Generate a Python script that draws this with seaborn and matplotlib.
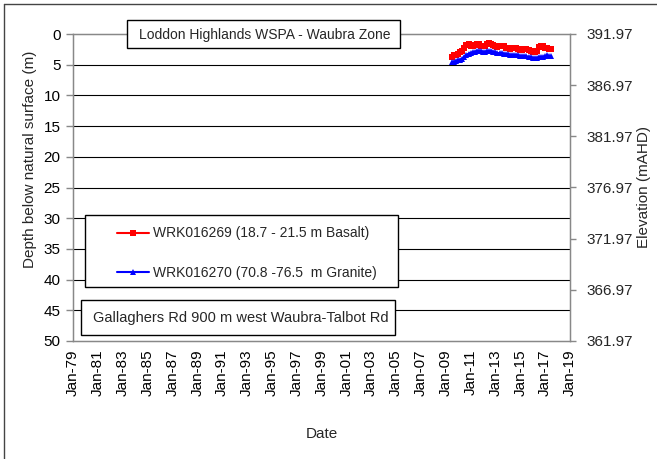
import matplotlib
matplotlib.use("Agg")
import matplotlib.pyplot as plt
import matplotlib.dates as mdates
from matplotlib.patches import Rectangle
from matplotlib.lines import Line2D
import seaborn as sns
import pandas as pd
import numpy as np

sns.set_style("white")
plt.rcParams['font.family'] = ['Liberation Sans', 'DejaVu Sans']

# ---- data ----
title_text = "Loddon Highlands WSPA - Waubra Zone"
site_text = "Gallaghers Rd 900 m west Waubra-Talbot Rd"
label_red = "WRK016269 (18.7 - 21.5 m Basalt)"
label_blue = "WRK016270 (70.8 -76.5  m Granite)"
start_date = "2009-07-01"

depth_red = [3.7, 3.5, 3.4, 3.2, 3.0, 2.7, 2.2, 1.8, 1.7, 1.9, 2.0, 1.8, 1.6, 1.7,
             1.9, 2.0, 1.9, 1.7, 1.5, 1.6, 1.8, 2.0, 2.1, 2.0, 1.9, 2.0, 2.2, 2.3,
             2.4, 2.3, 2.2, 2.3, 2.5, 2.6, 2.6, 2.5, 2.4, 2.6, 2.8, 2.9, 2.9, 2.7,
             2.1, 1.9, 2.0, 2.2, 2.3, 2.4, 2.4]
depth_blue = [4.6, 4.5, 4.4, 4.3, 4.2, 4.0, 3.7, 3.4, 3.2, 3.1, 3.0, 2.9, 2.8, 2.8,
              2.8, 2.9, 2.9, 2.8, 2.8, 2.8, 2.9, 3.0, 3.1, 3.1, 3.1, 3.2, 3.3, 3.3,
              3.4, 3.4, 3.4, 3.5, 3.5, 3.6, 3.6, 3.6, 3.6, 3.7, 3.8, 3.9, 3.9, 3.9,
              3.8, 3.7, 3.7, 3.6, 3.5, 3.6, 3.6]
dates = pd.date_range(start_date, periods=len(depth_red), freq="2MS")

tick_years = [1979, 1981, 1983, 1985, 1987, 1989, 1991, 1993, 1995, 1997, 1999,
              2001, 2003, 2005, 2007, 2009, 2011, 2013, 2015, 2017, 2019]
depth_ticks = [0, 5, 10, 15, 20, 25, 30, 35, 40, 45, 50]
elev_ticks = [361.97, 366.97, 371.97, 376.97, 381.97, 386.97, 391.97]

df_red = pd.DataFrame({"Date": dates, "Depth": depth_red})
df_blue = pd.DataFrame({"Date": dates, "Depth": depth_blue})

# ---- figure ----
W, H = 657, 459
fig = plt.figure(figsize=(W / 100, H / 100), dpi=100)
fig.patch.set_facecolor("white")
L, R, T, B = 73, 570, 34, 341
ax = fig.add_axes([L / W, 1 - B / H, (R - L) / W, (B - T) / H])

sns.lineplot(data=df_red, x="Date", y="Depth", ax=ax, color="#ff0000", marker="s",
             markersize=4.5, markeredgewidth=0, linewidth=1.5, label=label_red,
             legend=False)
sns.lineplot(data=df_blue, x="Date", y="Depth", ax=ax, color="#0000ff", marker="^",
             markersize=5, markeredgewidth=0, linewidth=1.5, label=label_blue,
             legend=False)

ax.set_ylim(50, 0)
ax.set_yticks(depth_ticks)
ax.set_xlim(pd.Timestamp("1979-01-01"), pd.Timestamp("2019-01-01"))
ax.set_xticks([pd.Timestamp(f"{y}-01-01") for y in tick_years])
ax.xaxis.set_major_formatter(mdates.DateFormatter("%b-%y"))
for lab in ax.get_xticklabels():
    lab.set_rotation(90)

ax.grid(False)
for y in depth_ticks[1:-1]:
    ax.axhline(y, color="black", linewidth=0.8, zorder=0.5)

gray = "#888888"
for s in ax.spines.values():
    s.set_color(gray)
    s.set_linewidth(1.0)

ax.tick_params(axis="both", which="major", direction="out", length=5, width=1,
               color=gray, labelsize=11, labelcolor="black")
ax.tick_params(axis="y", pad=4)
ax.tick_params(axis="x", length=4, pad=2)

ax.set_ylabel("Depth below natural surface (m)", fontsize=11)
ax.yaxis.set_label_coords(-0.073, 0.593)
ax.set_xlabel("Date", fontsize=11)
ax.xaxis.set_label_coords(0.5, -0.28)

ax2 = ax.twinx()
ax2.set_ylim(361.97, 391.97)
ax2.set_yticks(elev_ticks)
ax2.set_yticklabels([f"{v:.2f}" for v in elev_ticks])
ax2.tick_params(axis="y", direction="out", length=4, width=1, color=gray,
                labelsize=11, pad=8)
for s in ax2.spines.values():
    s.set_color(gray)
ax2.set_ylabel("Elevation (mAHD)", fontsize=11)
ax2.yaxis.set_label_coords(1.135, 0.5)
ax2.grid(False)

# ---- boxes ----
def fig_rect(x0, y0, x1, y1):
    r = Rectangle((x0 / W, 1 - y1 / H), (x1 - x0) / W, (y1 - y0) / H,
                  transform=fig.transFigure, facecolor="white",
                  edgecolor="black", linewidth=1.0, zorder=5)
    fig.patches.append(r)

fig_rect(127, 20, 400, 48)
fig.text(265 / W, 1 - 34.5 / H, title_text, ha="center", va="center",
         fontsize=10, zorder=6)

fig_rect(81, 300, 395, 335)
fig.text(93 / W, 1 - 318 / H, site_text, ha="left", va="center",
         fontsize=10.5, zorder=6)

fig_rect(85, 215, 398, 287)
handles, labels = ax.get_legend_handles_labels()
leg = fig.legend(handles, labels, loc="center left",
                 bbox_to_anchor=(117 / W, 1 - 253 / H), frameon=False,
                 fontsize=10, handlelength=2.3, handletextpad=0.3,
                 labelspacing=1.8, borderpad=0, borderaxespad=0)
leg.set_zorder(7)

# outer border (left and top)
fig.add_artist(Line2D([4 / W, 4 / W], [0, 1 - 4 / H], transform=fig.transFigure,
                      color="#444444", linewidth=1.0))
fig.add_artist(Line2D([4 / W, 1], [1 - 4 / H, 1 - 4 / H], transform=fig.transFigure,
                      color="#444444", linewidth=1.0))

fig.savefig("out.png", dpi=100)
